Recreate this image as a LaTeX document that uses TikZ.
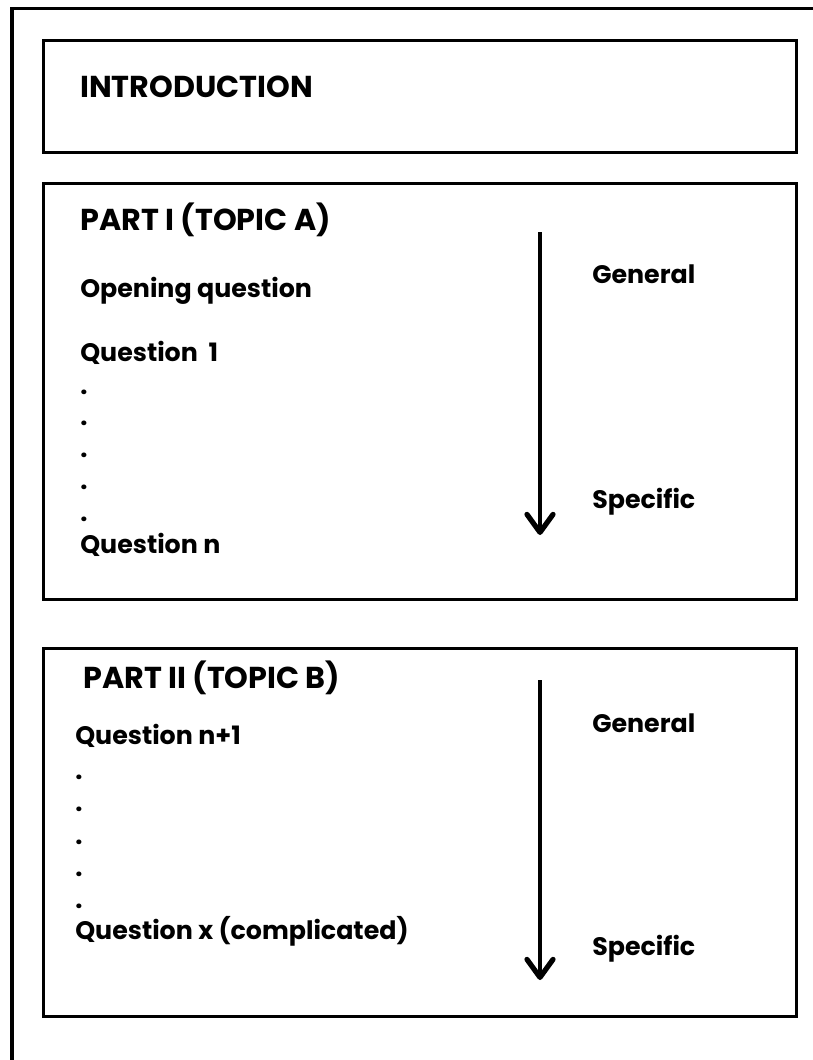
\documentclass[tikz,border=0pt]{standalone}
\usepackage{fontspec}
\setmainfont{Poppins}
\usetikzlibrary{arrows.meta}

\begin{document}
\begin{tikzpicture}[x=0.025cm, y=-0.025cm,
    frame/.style = {line width=0.075cm},
    head/.style = {anchor=base west, inner sep=0pt, font=\fontsize{21.5}{24}\selectfont\bfseries},
    item/.style = {anchor=base west, inner sep=0pt, font=\fontsize{18}{20}\selectfont\bfseries},
    flow/.style = {line width=0.1cm, -{Straight Barb[length=4.5mm, width=6.5mm, line width=0.13cm, round]}}]
  \useasboundingbox (0,0) rectangle (813,1060);
  %%% page frame %%%
  \draw[frame] (12,1060) |- (813,8);

  %%% introduction %%%
  \draw[frame] (43,40) rectangle (796,152);
  \node[head] (intro) at (80,97) {INTRODUCTION};

  %%% part one %%%
  \draw[frame] (43,183) rectangle (796,599);
  \node[head] (partA) at (80,230) {PART I (TOPIC A)};
  \node[item] (open) at (80,297) {Opening question};
  \node[item] (qA1) at (80,361) {Question\ \ 1};
  % dots
  \node[item] (dA1) at (80,394) {.};
  \node[item] (dA2) at (80,425) {.};
  \node[item] (dA3) at (80,457) {.};
  \node[item] (dA4) at (80,489) {.};
  \node[item] (dA5) at (80,521) {.};
  \node[item] (qAn) at (80,553) {Question n};
  % general to specific
  \coordinate (topA) at (540,232);
  \coordinate (botA) at (540,535);
  \draw[flow] (topA) -- (botA);
  \node[item] (genA) at (592,283) {General};
  \node[item] (specA) at (592,508) {Specific};

  %%% part two %%%
  \draw[frame] (43,648) rectangle (796,1016);
  \node[head] (partB) at (83,688) {PART II (TOPIC B)};
  \node[item] (qB1) at (75,744) {Question n+1};
  % dots
  \node[item] (dB1) at (75,779) {.};
  \node[item] (dB2) at (75,811) {.};
  \node[item] (dB3) at (75,844) {.};
  \node[item] (dB4) at (75,876) {.};
  \node[item] (dB5) at (75,908) {.};
  \node[item] (qBx) at (75,939) {Question x (complicated)};
  % general to specific
  \coordinate (topB) at (540,680);
  \coordinate (botB) at (540,980);
  \draw[flow] (topB) -- (botB);
  \node[item] (genB) at (592,732) {General};
  \node[item] (specB) at (592,955) {Specific};
\end{tikzpicture}
\end{document}
